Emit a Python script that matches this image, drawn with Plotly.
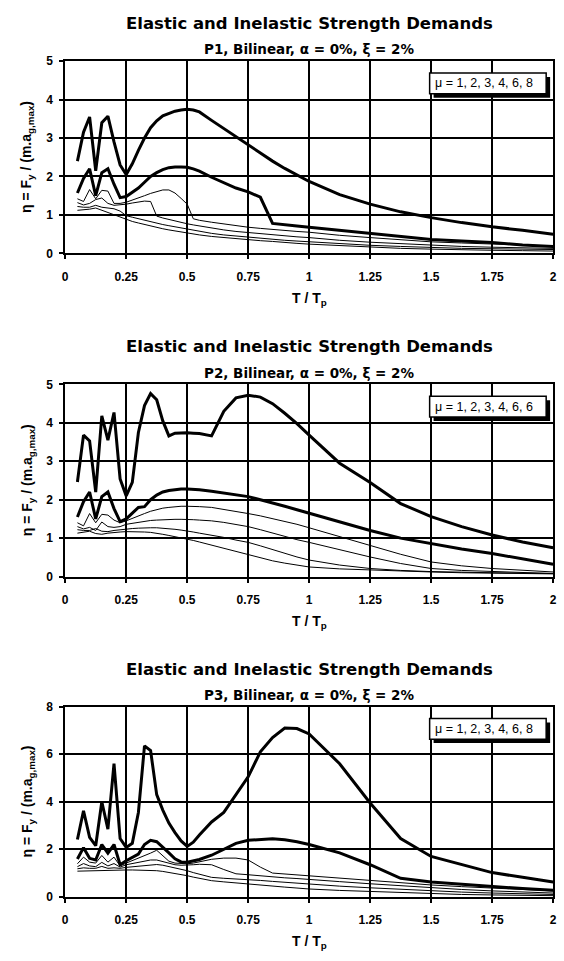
import plotly.graph_objects as go

# ---------------- data ----------------
T = [0.05, 0.075, 0.1, 0.125, 0.15, 0.175, 0.2, 0.225, 0.25, 0.275, 0.3, 0.325, 0.35, 0.375,
     0.4, 0.425, 0.45, 0.475, 0.5, 0.525, 0.55, 0.6, 0.65, 0.7, 0.75, 0.8, 0.85, 0.9, 0.95,
     1.0, 1.125, 1.25, 1.375, 1.5, 1.625, 1.75, 1.875, 2.0]

MU = [1, 2, 3, 4, 6, 8]

P1_MU1 = [2.4, 3.15, 3.55, 2.15, 3.4, 3.57, 2.9, 2.3, 2.05, 2.33, 2.68, 3.0, 3.27, 3.45, 3.58, 3.65, 3.7, 3.73, 3.75, 3.73, 3.68, 3.46, 3.25, 3.03, 2.82, 2.6, 2.4, 2.21, 2.03, 1.87, 1.53, 1.28, 1.08, 0.93, 0.8, 0.69, 0.6, 0.5]
P1_MU2 = [1.57, 1.95, 2.2, 1.5, 2.1, 2.2, 1.8, 1.45, 1.48, 1.58, 1.7, 1.85, 2.0, 2.1, 2.18, 2.23, 2.25, 2.25, 2.24, 2.2, 2.14, 1.98, 1.83, 1.7, 1.6, 1.46, 0.78, 0.74, 0.71, 0.68, 0.6, 0.51, 0.43, 0.36, 0.32, 0.28, 0.22, 0.18]
P1_MU3 = [1.42, 1.35, 1.66, 1.42, 1.64, 1.62, 1.3, 1.3, 1.33, 1.38, 1.44, 1.5, 1.56, 1.61, 1.65, 1.65, 1.57, 1.43, 1.28, 0.9, 0.86, 0.81, 0.76, 0.72, 0.68, 0.65, 0.62, 0.59, 0.57, 0.55, 0.47, 0.41, 0.35, 0.3, 0.27, 0.24, 0.21, 0.19]
P1_MU4 = [1.32, 1.26, 1.3, 1.4, 1.44, 1.3, 1.25, 1.26, 1.28, 1.31, 1.34, 1.36, 1.35, 0.97, 0.92, 0.88, 0.84, 0.8, 0.77, 0.74, 0.71, 0.66, 0.61, 0.57, 0.54, 0.51, 0.48, 0.45, 0.43, 0.41, 0.34, 0.29, 0.25, 0.21, 0.18, 0.16, 0.14, 0.13]
P1_MU6 = [1.22, 1.2, 1.2, 1.25, 1.2, 1.17, 1.16, 1.1, 0.98, 0.94, 0.9, 0.86, 0.82, 0.78, 0.75, 0.72, 0.69, 0.66, 0.63, 0.6, 0.57, 0.52, 0.48, 0.45, 0.42, 0.39, 0.36, 0.34, 0.32, 0.3, 0.25, 0.21, 0.18, 0.15, 0.13, 0.12, 0.11, 0.1]
P1_MU8 = [1.12, 1.13, 1.15, 1.18, 1.12, 1.05, 1.0, 0.94, 0.88, 0.83, 0.79, 0.75, 0.71, 0.67, 0.64, 0.61, 0.58, 0.55, 0.52, 0.5, 0.48, 0.44, 0.41, 0.38, 0.36, 0.33, 0.31, 0.28, 0.26, 0.24, 0.2, 0.16, 0.13, 0.11, 0.09, 0.08, 0.07, 0.06]

P2_MU1 = [2.46, 3.68, 3.53, 2.2, 4.18, 3.55, 4.27, 2.54, 2.1, 2.45, 3.75, 4.45, 4.76, 4.6, 4.05, 3.66, 3.73, 3.74, 3.74, 3.73, 3.72, 3.66, 4.3, 4.65, 4.72, 4.67, 4.5, 4.25, 3.98, 3.68, 2.95, 2.45, 1.9, 1.56, 1.3, 1.08, 0.9, 0.75]
P2_MU2 = [1.55, 1.95, 2.2, 1.5, 2.08, 2.2, 1.77, 1.43, 1.5, 1.65, 1.8, 1.82, 2.0, 2.12, 2.2, 2.24, 2.27, 2.28, 2.28, 2.27, 2.26, 2.22, 2.17, 2.13, 2.08, 2.0, 1.92, 1.83, 1.74, 1.65, 1.42, 1.2, 1.0, 0.85, 0.72, 0.6, 0.47, 0.32]
P2_MU3 = [1.4, 1.32, 1.64, 1.4, 1.62, 1.6, 1.47, 1.4, 1.45, 1.52, 1.58, 1.64, 1.7, 1.75, 1.78, 1.8, 1.82, 1.83, 1.83, 1.83, 1.82, 1.8, 1.75, 1.7, 1.64, 1.58, 1.51, 1.45, 1.36, 1.27, 1.04, 0.8, 0.58, 0.38, 0.28, 0.21, 0.16, 0.12]
P2_MU4 = [1.3, 1.24, 1.28, 1.2, 1.42, 1.3, 1.28, 1.3, 1.36, 1.39, 1.42, 1.44, 1.46, 1.47, 1.48, 1.49, 1.49, 1.49, 1.49, 1.48, 1.47, 1.45, 1.41, 1.36, 1.3, 1.22, 1.13, 1.04, 0.96, 0.89, 0.7, 0.51, 0.34, 0.21, 0.16, 0.13, 0.1, 0.08]
P2_MU6 = [1.22, 1.2, 1.2, 1.25, 1.18, 1.17, 1.2, 1.22, 1.24, 1.25, 1.26, 1.27, 1.27, 1.27, 1.26, 1.25, 1.23, 1.21, 1.19, 1.16, 1.13, 1.08, 1.02, 0.95, 0.89, 0.8, 0.7, 0.61, 0.51, 0.43, 0.3, 0.21, 0.16, 0.13, 0.11, 0.1, 0.09, 0.08]
P2_MU8 = [1.13, 1.15, 1.18, 1.12, 1.1, 1.13, 1.15, 1.16, 1.17, 1.17, 1.17, 1.16, 1.15, 1.13, 1.1, 1.07, 1.04, 1.01, 0.98, 0.94, 0.9, 0.82, 0.74, 0.65, 0.56, 0.48, 0.41, 0.35, 0.3, 0.25, 0.2, 0.17, 0.14, 0.12, 0.1, 0.09, 0.08, 0.07]

P3_MU1 = [2.41, 3.62, 2.5, 2.15, 4.0, 2.85, 5.6, 2.45, 2.08, 2.25, 3.55, 6.35, 6.15, 4.3, 3.65, 3.1, 2.7, 2.35, 2.12, 2.3, 2.6, 3.15, 3.55, 4.3, 5.05, 6.1, 6.7, 7.1, 7.08, 6.85, 5.6, 3.95, 2.45, 1.7, 1.35, 1.02, 0.82, 0.62]
P3_MU2 = [1.59, 2.07, 1.62, 1.55, 2.2, 1.84, 2.2, 1.35, 1.52, 1.65, 1.8, 2.2, 2.38, 2.32, 2.1, 1.85, 1.6, 1.47, 1.46, 1.5, 1.57, 1.75, 2.0, 2.25, 2.38, 2.42, 2.44, 2.4, 2.32, 2.2, 1.85, 1.35, 0.78, 0.62, 0.52, 0.42, 0.35, 0.28]
P3_MU3 = [1.39, 1.67, 1.46, 1.42, 1.74, 1.46, 1.67, 1.3, 1.42, 1.52, 1.62, 1.72, 1.84, 1.96, 1.75, 1.5, 1.42, 1.39, 1.39, 1.42, 1.47, 1.58, 1.63, 1.63, 1.55, 1.25, 1.0, 0.96, 0.93, 0.89, 0.8, 0.7, 0.6, 0.5, 0.43, 0.36, 0.3, 0.25]
P3_MU4 = [1.27, 1.4, 1.3, 1.27, 1.45, 1.3, 1.4, 1.25, 1.35, 1.4, 1.45, 1.5, 1.55, 1.55, 1.48, 1.4, 1.35, 1.33, 1.33, 1.35, 1.37, 1.35, 1.15, 0.97, 0.93, 0.88, 0.84, 0.8, 0.77, 0.74, 0.64, 0.55, 0.46, 0.38, 0.31, 0.25, 0.2, 0.16]
P3_MU6 = [1.18, 1.22, 1.2, 1.2, 1.28, 1.2, 1.22, 1.2, 1.24, 1.27, 1.3, 1.33, 1.35, 1.36, 1.33, 1.28, 1.23, 1.17, 1.1, 1.02, 0.95, 0.82, 0.78, 0.76, 0.73, 0.69, 0.65, 0.61, 0.57, 0.53, 0.45, 0.38, 0.31, 0.25, 0.2, 0.16, 0.13, 0.1]
P3_MU8 = [1.08, 1.09, 1.1, 1.1, 1.1, 1.1, 1.11, 1.12, 1.13, 1.13, 1.13, 1.12, 1.11, 1.1, 1.07, 1.03, 0.99, 0.94, 0.89, 0.83, 0.77, 0.68, 0.63, 0.58, 0.54, 0.49, 0.45, 0.41, 0.37, 0.33, 0.27, 0.22, 0.17, 0.13, 0.1, 0.08, 0.06, 0.05]

CHART_IDS = ["P1", "P2", "P3"]
SERIES = [
    [P1_MU1, P1_MU2, P1_MU3, P1_MU4, P1_MU6, P1_MU8],
    [P2_MU1, P2_MU2, P2_MU3, P2_MU4, P2_MU6, P2_MU8],
    [P3_MU1, P3_MU2, P3_MU3, P3_MU4, P3_MU6, P3_MU8],
]
Y_MAX = [5, 5, 8]
Y_DTICK = [1, 1, 2]
LEGEND_TEXT = ["μ = 1, 2, 3, 4, 6, 8", "μ = 1, 2, 3, 4, 6, 6", "μ = 1, 2, 3, 4, 6, 8"]

TITLE = "Elastic and Inelastic Strength Demands"
SUBTITLE = "{}, Bilinear, α = 0%, ξ = 2%"
X_TITLE = "T / T<sub>p</sub>"
Y_TITLE = "η = F<sub>y</sub> / (m.a<sub>g,max</sub>)"

# ---------------- layout (pixels) ----------------
W, H = 564, 961
PLOT_L, PLOT_R = 63, 557
PLOT_TOP = [55, 383, 710]
PLOT_BOT = [250, 578, 903]
FONT = "Liberation Sans, Arial, sans-serif"
TFONT = "DejaVu Sans, Liberation Sans, sans-serif"


def px(x):
    return x / W


def py(y):
    return 1 - y / H


fig = go.Figure()
annotations = []
shapes = []
layout = {}

for c in range(3):
    sfx = "" if c == 0 else str(c + 1)
    xa, ya = "x" + sfx, "y" + sfx
    for k, mu in enumerate(MU):
        fig.add_trace(go.Scatter(
            x=T, y=SERIES[c][k], mode="lines",
            line=dict(color="black", width=3 if mu <= 2 else 1),
            xaxis=xa, yaxis=ya, showlegend=False, hoverinfo="skip",
        ))
    common = dict(showline=True, linecolor="black", linewidth=2, mirror=True,
                  showgrid=True, gridcolor="black", gridwidth=2,
                  ticks="outside", ticklen=4, tickcolor="black", tickwidth=1.5,
                  zeroline=False,
                  tickfont=dict(family=FONT, size=12, color="black", weight="bold"))
    layout["xaxis" + sfx] = dict(domain=[px(PLOT_L), px(PLOT_R)], range=[0, 2], dtick=0.25,
                                 tick0=0, anchor=ya, ticklabelstandoff=7, **common)
    layout["yaxis" + sfx] = dict(domain=[py(PLOT_BOT[c]), py(PLOT_TOP[c])], range=[0, Y_MAX[c]],
                                 dtick=Y_DTICK[c], tick0=0, anchor=xa, ticklabelstandoff=4,
                                 **common)
    cx = (PLOT_L + PLOT_R) / 2
    annotations.append(dict(text=TITLE, x=px(cx), y=py(PLOT_TOP[c] - 38),
                            xref="paper", yref="paper", showarrow=False, xanchor="center",
                            yanchor="middle",
                            font=dict(family=TFONT, size=16.5, color="black", weight="bold")))
    annotations.append(dict(text=SUBTITLE.format(CHART_IDS[c]), x=px(cx),
                            y=py(PLOT_TOP[c] - 12), xref="paper", yref="paper", showarrow=False,
                            xanchor="center", yanchor="middle",
                            font=dict(family=TFONT, size=13.5, color="black", weight="bold")))
    annotations.append(dict(text=X_TITLE, x=px(cx), y=py(PLOT_BOT[c] + 46),
                            xref="paper", yref="paper", showarrow=False, xanchor="center",
                            yanchor="middle",
                            font=dict(family=FONT, size=14, color="black", weight="bold")))
    annotations.append(dict(text=Y_TITLE, x=px(25),
                            y=py((PLOT_TOP[c] + PLOT_BOT[c]) / 2), xref="paper", yref="paper",
                            showarrow=False, textangle=-90, xanchor="center", yanchor="middle",
                            font=dict(family=FONT, size=14, color="black", weight="bold")))
    # legend note box with drop shadow
    bx0, bx1 = 432, 550
    by0, by1 = PLOT_TOP[c] + 12, PLOT_TOP[c] + 33
    shapes.append(dict(type="rect", xref="paper", yref="paper", x0=px(bx0 + 4), x1=px(bx1 + 4),
                       y0=py(by1 + 4), y1=py(by0 + 4), fillcolor="black", line=dict(width=0),
                       layer="above"))
    shapes.append(dict(type="rect", xref="paper", yref="paper", x0=px(bx0), x1=px(bx1),
                       y0=py(by1), y1=py(by0), fillcolor="white",
                       line=dict(color="black", width=1.5), layer="above"))
    annotations.append(dict(text=LEGEND_TEXT[c], x=px(bx0 + 3), y=py((by0 + by1) / 2),
                            xref="paper", yref="paper", showarrow=False, xanchor="left",
                            yanchor="middle",
                            font=dict(family=FONT, size=12.5, color="black", weight=500)))

fig.update_layout(
    width=W, height=H, margin=dict(l=0, r=0, t=0, b=0),
    paper_bgcolor="white", plot_bgcolor="white",
    annotations=annotations, shapes=shapes, showlegend=False,
    **layout,
)

fig.write_html("out.html", config={"displayModeBar": False})
